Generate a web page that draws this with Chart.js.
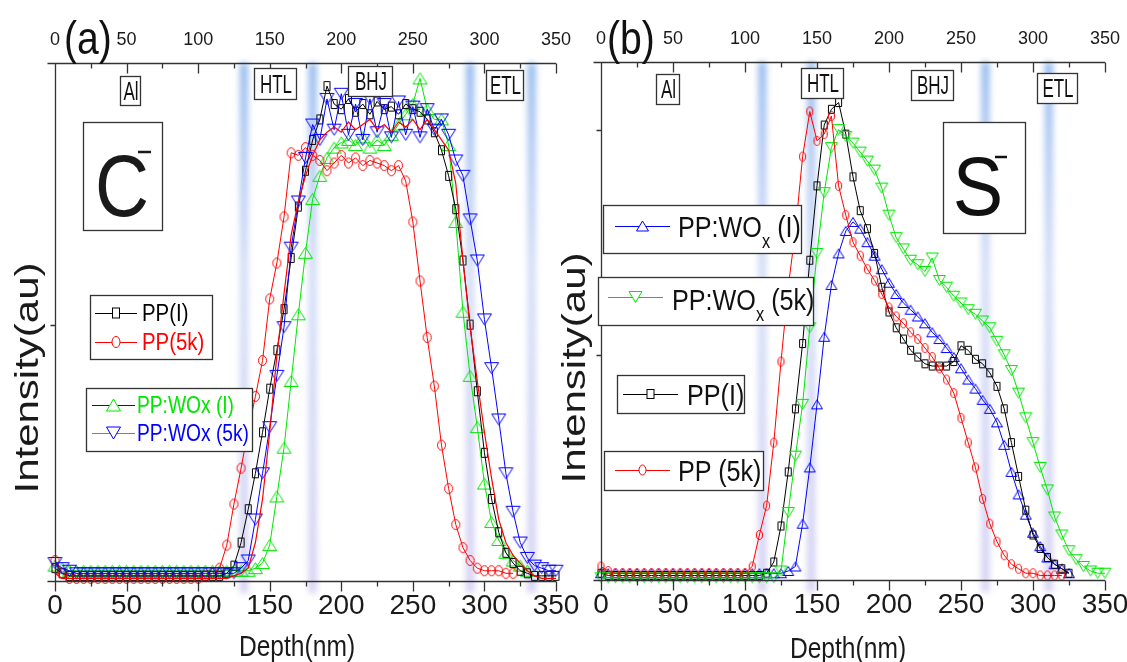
<!DOCTYPE html>
<html>
<head>
<meta charset="utf-8">
<script src="https://cdn.jsdelivr.net/npm/chart.js@4.4.1/dist/chart.umd.min.js"></script>
<style>
    html, body { margin: 0; padding: 0; background: #fff; }
    #wrap { position: relative; width: 1127px; height: 662px; overflow: hidden; }
    .panel { position: absolute; top: 0; height: 662px; }
    #pa { left: 0; width: 585px; }
    #pb { left: 565px; width: 562px; }
    #ov { position: absolute; left: 0; top: 0; width: 1127px; height: 662px; pointer-events: none; }
</style>
</head>
<body>
<div id="wrap">
    <div class="panel" id="pa"><canvas id="chartA"></canvas></div>
    <div class="panel" id="pb"><canvas id="chartB"></canvas></div>
    <svg id="ov" xmlns="http://www.w3.org/2000/svg" width="1127" height="662"></svg>
</div>
<script>
// depth grid (nm), shared by both panels
const depth = [0, 5, 10, 15, 20, 25, 30, 35, 40, 45, 50, 55, 60, 65, 70, 75, 80, 85, 90, 95,
    100, 105, 110, 115, 120, 125, 130, 135, 140, 145, 150, 155, 160, 165, 170, 175, 180, 185, 190, 195,
    200, 205, 210, 215, 220, 225, 230, 235, 240, 245, 250, 255, 260, 265, 270, 275, 280, 285, 290, 295,
    300, 305, 310, 315, 320, 325, 330, 335, 340, 345, 350];
const depthTicks = [0, 25, 50, 75, 100, 125, 150, 175, 200, 225, 250, 275, 300, 325, 350];

// (a) C- profiles
const aPPI = [0.05, 0.03, 0.02, 0.02, 0.02, 0.02, 0.02, 0.02, 0.02, 0.02,
    0.02, 0.02, 0.02, 0.02, 0.02, 0.02, 0.02, 0.02, 0.02, 0.02,
    0.02, 0.02, 0.02, 0.02, 0.03, 0.06, 0.15, 0.28, 0.42, 0.58,
    0.75, 0.90, 1.06, 1.26, 1.46, 1.60, 1.72, 1.80, 1.93, 1.86,
    1.84, 1.88, 1.83, 1.86, 1.82, 1.87, 1.84, 1.85, 1.82, 1.86,
    1.84, 1.83, 1.80, 1.75, 1.68, 1.58, 1.45, 1.25, 1.00, 0.74,
    0.50, 0.32, 0.19, 0.11, 0.07, 0.04, 0.03, 0.02, 0.02, 0.02, 0.02];
const aPP5k = [0.08, 0.03, 0.01, 0.01, 0.01, 0.01, 0.01, 0.01, 0.01, 0.01,
    0.01, 0.01, 0.01, 0.01, 0.01, 0.01, 0.01, 0.01, 0.01, 0.01,
    0.01, 0.02, 0.03, 0.05, 0.14, 0.30, 0.44, 0.59, 0.72, 0.86,
    1.10, 1.24, 1.42, 1.67, 1.66, 1.69, 1.66, 1.64, 1.60, 1.63,
    1.66, 1.63, 1.65, 1.62, 1.64, 1.63, 1.62, 1.60, 1.62, 1.56,
    1.40, 1.17, 0.95, 0.76, 0.53, 0.36, 0.22, 0.13, 0.08, 0.05,
    0.04, 0.04, 0.04, 0.03, 0.03, null, null, null, null, null, null];
const aWOxI = [0.06, 0.05, 0.04, 0.04, 0.04, 0.04, 0.04, 0.04, 0.04, 0.04,
    0.04, 0.04, 0.04, 0.04, 0.04, 0.04, 0.04, 0.04, 0.04, 0.04,
    0.04, 0.04, 0.04, 0.04, 0.04, 0.04, 0.04, 0.04, 0.05, 0.07,
    0.14, 0.33, 0.52, 0.78, 1.04, 1.28, 1.49, 1.58, 1.65, 1.69,
    1.71, 1.72, 1.70, 1.73, 1.69, 1.72, 1.70, 1.74, 1.78, 1.82,
    1.86, 1.96, 1.84, 1.80, 1.80, 1.70, 1.40, 1.05, 0.80, 0.60,
    0.38, 0.23, 0.16, 0.11, 0.08, 0.06, 0.04, null, null, null, null];
const aWOx5k = [0.07, 0.05, 0.04, 0.03, 0.03, 0.03, 0.03, 0.03, 0.03, 0.03,
    0.03, 0.03, 0.03, 0.03, 0.03, 0.03, 0.03, 0.03, 0.03, 0.03,
    0.03, 0.03, 0.03, 0.03, 0.03, 0.03, 0.05, 0.08, 0.24, 0.42,
    0.60, 0.80, 0.99, 1.30, 1.48, 1.65, 1.78, 1.72, 1.88, 1.76,
    1.90, 1.74, 1.86, 1.72, 1.88, 1.75, 1.86, 1.73, 1.87, 1.74,
    1.85, 1.73, 1.84, 1.76, 1.80, 1.74, 1.64, 1.58, 1.41, 1.25,
    1.02, 0.83, 0.63, 0.42, 0.27, 0.15, 0.09, 0.06, 0.05, 0.04, 0.04];
// thin red trace running over the plateau in (a)
const aTrace = [0.03, 0.01, 0.01, 0.01, 0.01, 0.01, 0.01, 0.01, 0.01, 0.01,
    0.01, 0.01, 0.01, 0.01, 0.01, 0.01, 0.01, 0.01, 0.01, 0.01,
    0.01, 0.01, 0.01, 0.01, 0.01, 0.02, 0.03, 0.05, 0.15, 0.32,
    0.58, 0.88, 1.12, 1.35, 1.48, 1.58, 1.66, 1.72, 1.75, 1.77,
    1.75, 1.79, 1.76, 1.78, 1.80, 1.76, 1.78, 1.75, 1.79, 1.77,
    1.80, 1.76, 1.80, 1.76, 1.72, 1.68, 1.55, 1.25, 0.99, 0.78,
    0.58, 0.40, 0.24, 0.15, 0.10, 0.07, 0.04, 0.02, 0.01, 0.01, 0.01];

// (b) S- profiles
const bPPI = [0.03, 0.02, 0.02, 0.02, 0.02, 0.02, 0.02, 0.02, 0.02, 0.02,
    0.02, 0.02, 0.02, 0.02, 0.02, 0.02, 0.02, 0.02, 0.02, 0.02,
    0.02, 0.02, 0.02, 0.03, 0.08, 0.24, 0.48, 0.76, 1.05, 1.42,
    1.75, 2.02, 2.09, 2.12, 1.98, 1.79, 1.64, 1.56, 1.45, 1.30,
    1.19, 1.12, 1.07, 1.02, 0.99, 0.96, 0.95, 0.95, 0.95, 0.97,
    1.04, 1.02, 0.98, 0.96, 0.92, 0.86, 0.76, 0.61, 0.46, 0.31,
    0.20, 0.14, 0.10, 0.07, 0.05, 0.03, null, null, null, null, null];
const bPP5k = [0.06, 0.04, 0.03, 0.03, 0.03, 0.03, 0.03, 0.03, 0.03, 0.03,
    0.03, 0.03, 0.03, 0.03, 0.03, 0.03, 0.03, 0.03, 0.03, 0.03,
    0.03, 0.06, 0.20, 0.33, 0.61, 0.97, 1.30, 1.55, 1.88, 2.08,
    1.95, 1.98, 2.06, 1.75, 1.62, 1.50, 1.44, 1.38, 1.33, 1.27,
    1.21, 1.17, 1.14, 1.10, 1.07, 1.03, 0.99, 0.94, 0.89, 0.83,
    0.72, 0.61, 0.50, 0.36, 0.25, 0.17, 0.11, 0.07, 0.05, 0.03,
    0.03, 0.02, 0.02, 0.02, 0.02, null, null, null, null, null, null];
const bWOxI = [0.03, 0.03, 0.03, 0.03, 0.03, 0.03, 0.03, 0.03, 0.03, 0.03,
    0.03, 0.03, 0.03, 0.03, 0.03, 0.03, 0.03, 0.03, 0.03, 0.03,
    0.03, 0.03, 0.03, 0.03, 0.03, 0.03, 0.04, 0.06, 0.25, 0.50,
    0.78, 1.08, 1.31, 1.45, 1.55, 1.59, 1.56, 1.50, 1.44, 1.38,
    1.32, 1.27, 1.23, 1.20, 1.17, 1.14, 1.10, 1.07, 1.03, 0.99,
    0.94, 0.89, 0.85, 0.80, 0.76, 0.70, 0.60, 0.48, 0.38, 0.29,
    0.21, 0.15, 0.10, 0.07, 0.05, 0.03, null, null, null, null, null];
const bWOx5k = [0.01, 0.01, 0.01, 0.01, 0.01, 0.01, 0.01, 0.01, 0.01, 0.01,
    0.01, 0.01, 0.01, 0.01, 0.01, 0.01, 0.01, 0.01, 0.01, 0.01,
    0.01, 0.01, 0.01, 0.01, 0.01, 0.04, 0.30, 0.55, 0.78, 1.12,
    1.45, 1.72, 1.92, 2.00, 1.97, 1.94, 1.90, 1.86, 1.82, 1.74,
    1.62, 1.52, 1.47, 1.42, 1.40, 1.37, 1.43, 1.33, 1.30, 1.26,
    1.23, 1.20, 1.18, 1.15, 1.12, 1.06, 1.00, 0.93, 0.83, 0.72,
    0.61, 0.50, 0.40, 0.28, 0.20, 0.13, 0.09, 0.06, 0.04, 0.03, 0.03];

// layer interfaces (nm), drawn as blurred stripes
const interfacesA = [132, 180, 290, 333];
const interfacesB = [112, 146, 267, 311];

const tickFont = "'Liberation Sans Narrow', 'Liberation Sans', Arial, sans-serif";
const textFont = "Liberation Sans, Arial, sans-serif";
const RED = '#ff0000', GREEN = '#00e600', BLUE = '#0000ff', BLACK = '#000000', TEAL = '#3a9c9c';

// hollow marker bitmaps (figure is squeezed horizontally, so circles are ellipses)
function marker(shape, w, h, color) {
    const c = document.createElement('canvas');
    c.width = w + 2;
    c.height = h + 2;
    const g = c.getContext('2d');
    g.strokeStyle = color;
    g.lineWidth = 1;
    g.beginPath();
    if (shape === 'square') g.rect(1.5, 1.5, w - 1, h - 1);
    if (shape === 'circle') g.ellipse((w + 2) / 2, (h + 2) / 2, (w - 1) / 2, (h - 1) / 2, 0, 0, 2 * Math.PI);
    if (shape === 'up') { g.moveTo((w + 2) / 2, 1.5); g.lineTo(w + 0.5, h + 0.5); g.lineTo(1.5, h + 0.5); g.closePath(); }
    if (shape === 'down') { g.moveTo(1.5, 1.5); g.lineTo(w + 0.5, 1.5); g.lineTo((w + 2) / 2, h + 0.5); g.closePath(); }
    g.stroke();
    return c;
}

function series(values, color, style, extra) {
    return Object.assign({
        data: depth.map((d, i) => ({ x: d, y: values[i] })),
        borderColor: color,
        borderWidth: 1,
        pointStyle: style,
        pointRadius: 5,
        pointHoverRadius: 5,
        fill: false,
        tension: 0,
        clip: false
    }, extra || {});
}

// blurred interface stripes behind the data
const bandPlugin = {
    id: 'bands',
    beforeDatasetsDraw(chart, args, opts) {
        const { ctx, chartArea: a, scales: { x } } = chart;
        ctx.save();
        ctx.filter = 'blur(3px)';
        opts.depths.forEach(d => {
            const px = x.getPixelForValue(d);
            const g = ctx.createLinearGradient(0, a.top, 0, a.bottom + 12);
            g.addColorStop(0, 'rgba(100,155,230,0.7)');
            g.addColorStop(0.4, 'rgba(145,170,235,0.4)');
            g.addColorStop(1, 'rgba(170,160,230,0.5)');
            ctx.fillStyle = g;
            ctx.fillRect(px - 4, a.top, 8, a.bottom - a.top + 12);
        });
        ctx.restore();
    }
};

// spines and tick marks: top ticks point inward, bottom/left ticks outward
const framePlugin = {
    id: 'frame',
    afterDatasetsDraw(chart, args, opts) {
        const { ctx, chartArea: a, scales: { x, y } } = chart;
        const L = Math.round(a.left) + 0.5, T = Math.round(a.top) + 0.5, B = Math.round(a.bottom) + 0.5;
        ctx.save();
        ctx.strokeStyle = '#333';
        ctx.lineWidth = 1.3;
        ctx.beginPath();
        ctx.moveTo(L - 8, B); ctx.lineTo(a.right, B);
        ctx.moveTo(L - 8, T); ctx.lineTo(a.right, T);
        ctx.moveTo(L, T); ctx.lineTo(L, B);
        depthTicks.forEach(v => {
            const px = Math.round(x.getPixelForValue(v)) + 0.5;
            const len = v % 50 === 0 ? 10 : 5;
            ctx.moveTo(px, B); ctx.lineTo(px, B + len);
            ctx.moveTo(px, T); ctx.lineTo(px, T + len);
        });
        opts.yTicks.forEach(v => {
            const py = Math.round(y.getPixelForValue(v)) + 0.5;
            ctx.moveTo(L - 5, py); ctx.lineTo(L, py);
        });
        ctx.stroke();
        ctx.restore();
    }
};

function makeChart(id, datasets, cfg) {
    return new Chart(document.getElementById(id), {
        type: 'line',
        data: { datasets },
        options: {
            responsive: true,
            maintainAspectRatio: false,
            animation: false,
            events: [],
            layout: { padding: { left: 0, right: cfg.padRight, top: 0, bottom: 0 } },
            plugins: {
                legend: { display: false },
                tooltip: { enabled: false },
                bands: { depths: cfg.bands },
                frame: { yTicks: cfg.yTicks }
            },
            scales: {
                x: {
                    type: 'linear', position: 'bottom', min: 0, max: 350,
                    ticks: { stepSize: 50, font: { family: tickFont, size: 28 }, color: '#1a1a1a', padding: 8, maxRotation: 0, autoSkip: false },
                    grid: { display: false, drawTicks: false },
                    border: { display: false },
                    afterFit: s => { s.height = cfg.bottomH; s.paddingLeft = 0; s.paddingRight = 0; }
                },
                x2: {
                    type: 'linear', position: 'top', min: 0, max: 350,
                    ticks: { stepSize: 50, font: { family: tickFont, size: 18 }, color: '#1a1a1a', padding: 12, maxRotation: 0, autoSkip: false },
                    grid: { display: false, drawTicks: false },
                    border: { display: false },
                    afterFit: s => { s.height = cfg.topH; s.paddingLeft = 0; s.paddingRight = 0; }
                },
                y: {
                    min: 0, max: cfg.yMax,
                    ticks: { display: false },
                    grid: { display: false, drawTicks: false },
                    border: { display: false },
                    afterFit: s => { s.width = cfg.leftW; }
                }
            }
        },
        plugins: [bandPlugin, framePlugin]
    });
}

// panel (a): first dataset is drawn on top
makeChart('chartA', [
    series(aTrace, RED, false, { pointRadius: 0, borderWidth: 1.2 }),
    series(aWOx5k, BLUE, marker('down', 15, 12, BLUE)),
    series(aPP5k, RED, marker('circle', 9, 11, RED)),
    series(aPPI, BLACK, marker('square', 7, 10, BLACK)),
    series(aWOxI, GREEN, marker('up', 15, 12, GREEN))
], { bands: interfacesA, yTicks: [1], yMax: 2.02, leftW: 55, padRight: 29, topH: 63, bottomH: 81 });

// panel (b)
makeChart('chartB', [
    series(bPP5k, RED, marker('circle', 7, 10, RED)),
    series(bWOx5k, GREEN, marker('down', 13, 11, GREEN)),
    series(bPPI, BLACK, marker('square', 7, 9, BLACK)),
    series(bWOxI, BLUE, marker('up', 12, 10, BLUE))
], { bands: interfacesB, yTicks: [1, 2], yMax: 2.30, leftW: 36, padRight: 22, topH: 62, bottomH: 82 });

// ---- overlay: labels, boxes, legends ----
const NS = 'http://www.w3.org/2000/svg';
const ov = document.getElementById('ov');

function add(tag, attrs, parent) {
    const e = document.createElementNS(NS, tag);
    for (const k in attrs) e.setAttribute(k, attrs[k]);
    (parent || ov).appendChild(e);
    return e;
}

function box(x, y, w, h) {
    add('rect', { x: x + 0.5, y: y + 0.5, width: w, height: h, fill: '#fff', stroke: '#333', 'stroke-width': 1.3 });
}

function label(x, y, str, size, color, opts) {
    opts = opts || {};
    const t = add('text', {
        transform: 'translate(' + x + ',' + y + ') scale(' + (opts.sx || 0.82) + ',1)' + (opts.rot ? ' rotate(' + opts.rot + ')' : ''),
        'font-size': size, fill: color, 'font-family': textFont, 'text-anchor': opts.anchor || 'start'
    });
    t.textContent = str;
    return t;
}

// "PP:WO" + subscript x + tail
function woxLabel(x, y, tail, size, color) {
    const t = add('text', { transform: 'translate(' + x + ',' + y + ') scale(0.84,1)', 'font-size': size, fill: color, 'font-family': textFont });
    t.appendChild(document.createTextNode('PP:WO'));
    const sub = add('tspan', { dy: 11, 'font-size': size * 0.65 }, t);
    sub.textContent = 'x';
    const rest = add('tspan', { dy: -11 }, t);
    rest.textContent = tail;
}

function legendMark(shape, cx, cy, w, h, color) {
    const a = { fill: '#fff', stroke: color, 'stroke-width': 1 };
    if (shape === 'square') add('rect', Object.assign({ x: cx - w / 2, y: cy - h / 2, width: w, height: h }, a));
    if (shape === 'circle') add('ellipse', Object.assign({ cx: cx, cy: cy, rx: w / 2, ry: h / 2 }, a));
    if (shape === 'up') add('polygon', Object.assign({ points: [cx, cy - h / 2, cx + w / 2, cy + h / 2, cx - w / 2, cy + h / 2].join(' ') }, a));
    if (shape === 'down') add('polygon', Object.assign({ points: [cx - w / 2, cy - h / 2, cx + w / 2, cy - h / 2, cx, cy + h / 2].join(' ') }, a));
}

function legendRow(x1, x2, cy, lineColor, shape, w, h, markColor) {
    add('line', { x1: x1, y1: cy + 0.5, x2: x2, y2: cy + 0.5, stroke: lineColor, 'stroke-width': 1.2 });
    legendMark(shape, (x1 + x2) / 2, cy, w, h, markColor);
}

// panel tags
label(64, 54, '(a)', 46, '#111', { sx: 0.85 });
label(607, 54, '(b)', 46, '#111', { sx: 0.85 });

// axis titles
label(38, 378, 'Intensity(au)', 42, '#1a1a1a', { sx: 0.8, rot: -90, anchor: 'middle' });
label(585, 368, 'Intensity(au)', 42, '#1a1a1a', { sx: 0.8, rot: -90, anchor: 'middle' });
label(297, 656, 'Depth(nm)', 30, '#1a1a1a', { anchor: 'middle' });
label(848, 658, 'Depth(nm)', 30, '#1a1a1a', { anchor: 'middle' });

// layer labels
[
    [120, 76, 20, 29, 'Al'], [254, 68, 42, 31, 'HTL'], [348, 66, 44, 30, 'BHJ'], [486, 70, 37, 30, 'ETL'],
    [656, 74, 23, 30, 'Al'], [801, 68, 42, 30, 'HTL'], [911, 70, 42, 30, 'BHJ'], [1037, 73, 40, 30, 'ETL']
].forEach(([x, y, w, h, s]) => {
    box(x, y, w, h);
    label(x + w / 2 + 1, y + h / 2 + 9, s, 25, '#111', { sx: 0.68, anchor: 'middle' });
});

// ion boxes
box(83, 122, 79, 108);
label(122, 216, 'C', 88, '#1a1a1a', { sx: 0.85, anchor: 'middle' });
add('line', { x1: 138, y1: 152, x2: 151, y2: 152, stroke: '#1a1a1a', 'stroke-width': 2.5 });
box(943, 122, 82, 111);
label(978, 215, 'S', 84, '#111', { sx: 0.9, anchor: 'middle' });
add('line', { x1: 995, y1: 157, x2: 1007, y2: 157, stroke: '#111', 'stroke-width': 2.5 });

// legends (a)
box(90, 295, 122, 64);
legendRow(95, 137, 313, BLACK, 'square', 7, 10, BLACK);
label(142, 321, 'PP(I)', 24, BLACK, { sx: 0.85 });
legendRow(95, 137, 342, RED, 'circle', 8, 11, RED);
label(142, 350, 'PP(5k)', 24, RED, { sx: 0.85 });

box(86, 388, 166, 63);
legendRow(92, 135, 405, BLUE, 'up', 14, 12, GREEN);
label(137, 413, 'PP:WOx (I)', 24, GREEN, { sx: 0.8 });
legendRow(92, 135, 433, TEAL, 'down', 14, 12, BLUE);
label(137, 441, 'PP:WOx (5k)', 24, BLUE, { sx: 0.8 });

// legends (b)
box(603, 205, 198, 48);
legendRow(615, 670, 226, BLUE, 'up', 12, 10, BLUE);
woxLabel(678, 237, ' (I)', 30, '#111');
box(598, 277, 215, 48);
legendRow(608, 663, 297, TEAL, 'down', 13, 11, GREEN);
woxLabel(672, 310, ' (5k)', 30, '#111');
box(617, 375, 127, 38);
legendRow(623, 678, 394, BLACK, 'square', 7, 9, BLACK);
label(687, 405, 'PP(I)', 30, '#111', { sx: 0.84 });
box(604, 451, 159, 39);
legendRow(615, 670, 470, RED, 'circle', 7, 10, RED);
label(678, 481, 'PP (5k)', 30, '#111', { sx: 0.84 });
</script>
</body>
</html>
